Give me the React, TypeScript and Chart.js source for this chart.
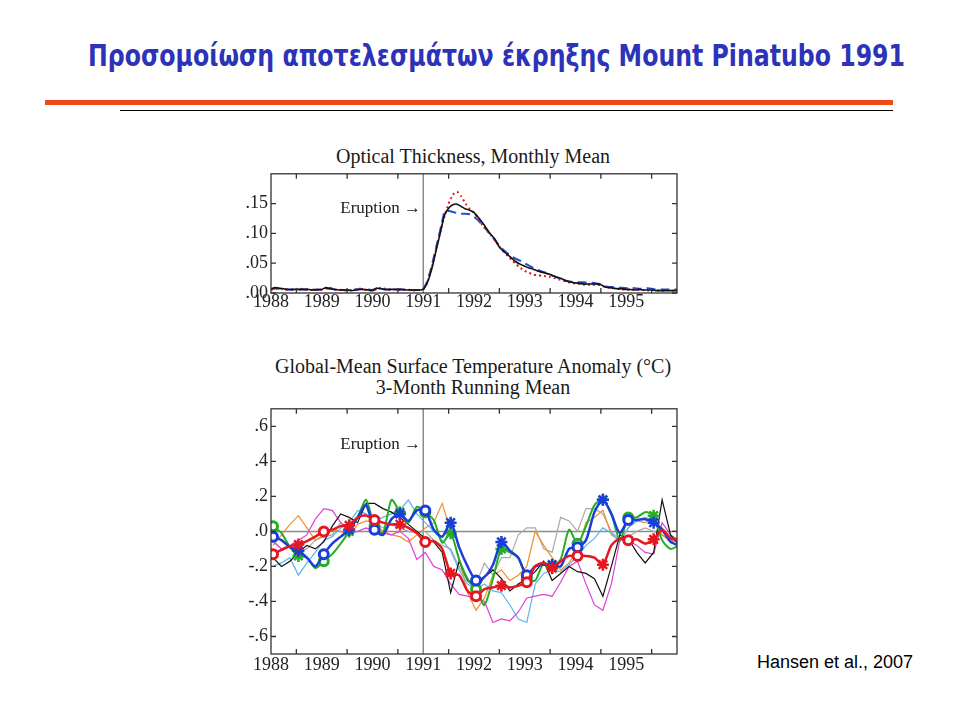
import React, { useEffect, useRef } from "react";
import { Chart, registerables } from "chart.js";
Chart.register(...registerables);

// ---------- Top panel: optical thickness (monthly) ----------
const odMonths = Array.from({ length: 97 }, (_, j) => 1988 + j / 12);
const odBlack = [
  0.007,0.009,0.008,0.007,0.006,0.006,0.006,0.006,0.006,0.006,0.005,0.006,
  0.006,0.009,0.007,0.006,0.005,0.005,0.005,0.004,0.005,0.006,0.006,0.005,
  0.004,0.008,0.007,0.006,0.006,0.006,0.006,0.006,0.005,0.005,0.005,0.005,
  0.006,0.018,0.040,0.070,0.100,0.130,0.142,0.148,0.149,0.145,0.141,0.139,
  0.135,0.127,0.118,0.108,0.098,0.090,0.077,0.070,0.064,0.058,0.052,0.048,
  0.045,0.042,0.040,0.037,0.035,0.033,0.031,0.028,0.026,0.023,0.020,0.018,
  0.017,0.016,0.015,0.015,0.015,0.015,0.014,0.010,0.009,0.008,0.007,0.007,
  0.006,0.006,0.005,0.006,0.005,0.005,0.005,0.004,0.004,0.004,0.004,0.004,
  0.004,
];
const odRed = [
  0.006,0.007,0.008,0.006,0.006,0.005,0.006,0.007,0.006,0.005,0.005,0.006,
  0.005,0.008,0.009,0.006,0.005,0.005,0.004,0.005,0.006,0.007,0.006,0.005,
  0.004,0.006,0.009,0.007,0.005,0.006,0.005,0.005,0.006,0.005,0.004,0.005,
  0.006,0.018,0.042,0.072,0.102,0.128,0.150,0.165,0.170,0.162,0.150,0.141,
  0.135,0.125,0.114,0.105,0.097,0.088,0.078,0.069,0.062,0.055,0.048,0.042,
  0.037,0.034,0.031,0.030,0.029,0.028,0.027,0.025,0.023,0.021,0.019,0.017,
  0.016,0.015,0.014,0.014,0.014,0.014,0.013,0.010,0.009,0.008,0.007,0.006,
  0.006,0.005,0.006,0.005,0.005,0.004,0.005,0.005,0.004,0.004,0.005,0.004,
  0.004,
];
const odBlue = [
  0.006,0.008,0.007,0.006,0.006,0.006,0.005,0.006,0.006,0.006,0.006,0.005,
  0.006,0.007,0.008,0.006,0.006,0.005,0.005,0.005,0.006,0.007,0.006,0.006,
  0.005,0.008,0.007,0.006,0.006,0.005,0.006,0.006,0.006,0.005,0.005,0.005,
  0.006,0.020,0.045,0.075,0.105,0.137,0.138,0.136,0.134,0.133,0.133,0.132,
  0.128,0.122,0.114,0.106,0.097,0.088,0.079,0.072,0.066,0.061,0.057,0.054,
  0.050,0.046,0.042,0.039,0.036,0.034,0.031,0.028,0.025,0.022,0.020,0.019,
  0.018,0.018,0.018,0.017,0.017,0.016,0.015,0.011,0.010,0.010,0.009,0.009,
  0.008,0.009,0.008,0.007,0.007,0.008,0.007,0.006,0.006,0.006,0.006,0.006,
  0.006,
];
const odTicks = [0, 0.05, 0.1, 0.15];

// ---------- Bottom panel: temperature anomaly (every 2 months) ----------
const tYears = Array.from({ length: 49 }, (_, i) => 1988.04 + i / 6);
const tBlue = [-0.03,-0.05,-0.09,-0.11,-0.15,-0.20,-0.13,-0.07,-0.03,0.01,0.08,0.15,0.01,-0.02,0.07,0.10,0.06,0.12,0.12,0.01,-0.03,0.05,-0.09,-0.20,-0.28,-0.26,-0.19,-0.06,-0.11,-0.15,-0.25,-0.20,-0.19,-0.19,-0.20,-0.10,-0.09,-0.05,0.11,0.18,0.10,-0.01,0.065,0.065,0.07,0.05,0.01,-0.06,-0.08];
const tRed = [-0.13,-0.106,-0.085,-0.075,-0.055,-0.03,0.0,0.01,0.03,0.035,0.08,0.09,0.065,0.05,0.04,0.04,0.02,-0.01,-0.06,-0.055,-0.10,-0.24,-0.25,-0.34,-0.37,-0.33,-0.32,-0.31,-0.32,-0.31,-0.29,-0.20,-0.18,-0.21,-0.17,-0.14,-0.14,-0.14,-0.15,-0.19,-0.08,-0.04,-0.05,-0.045,-0.07,-0.045,0.01,-0.04,-0.05];
const tGreen = [0.03,-0.01,-0.09,-0.14,-0.15,-0.21,-0.17,-0.13,-0.07,0.0,0.08,0.18,0.03,-0.01,0.18,0.11,0.05,0.14,0.11,0.065,-0.065,-0.01,-0.16,-0.27,-0.33,-0.42,-0.27,-0.10,-0.12,-0.15,-0.27,-0.28,-0.18,-0.20,-0.16,0.01,-0.07,0.03,0.15,0.18,0.10,-0.05,0.08,0.08,0.11,0.09,-0.05,-0.10,-0.08];
const tBlack = [-0.15,-0.20,-0.17,-0.12,-0.08,-0.10,-0.06,0.03,0.10,0.08,0.05,0.16,0.16,0.13,0.11,0.08,0.04,0.0,-0.04,-0.06,-0.12,-0.35,-0.17,-0.28,-0.33,-0.26,-0.22,-0.27,-0.34,-0.30,-0.27,-0.23,-0.17,-0.28,-0.24,-0.20,-0.23,-0.24,-0.27,-0.37,-0.20,-0.02,-0.04,-0.12,-0.18,-0.12,0.18,-0.02,-0.08];
const tGray = [-0.05,-0.10,-0.08,-0.12,-0.10,-0.05,-0.03,-0.02,0.05,0.02,0.08,0.10,0.05,0.02,0.04,0.02,0.0,-0.01,0.0,-0.05,-0.08,-0.10,-0.20,-0.28,-0.30,-0.18,-0.25,-0.15,-0.15,-0.02,0.02,0.02,-0.10,-0.12,0.08,0.06,0.0,0.13,0.13,0.10,0.0,-0.05,-0.03,0.0,0.02,0.0,-0.02,-0.05,-0.06];
const tOrange = [-0.08,-0.02,0.04,0.09,0.02,-0.05,-0.02,0.01,0.0,-0.03,0.04,0.06,0.05,0.0,-0.02,-0.03,-0.06,-0.02,0.02,0.05,0.16,0.0,-0.15,-0.35,-0.45,-0.38,-0.25,-0.22,-0.28,-0.25,-0.20,0.0,-0.08,-0.15,-0.22,-0.18,-0.10,0.05,0.08,0.12,-0.02,-0.05,0.02,0.06,0.05,0.08,-0.02,-0.06,-0.05];
const tMagenta = [-0.06,-0.10,-0.08,-0.05,-0.02,0.07,0.13,0.12,0.05,-0.01,0.0,0.02,0.0,-0.01,-0.02,0.0,-0.04,-0.16,-0.12,-0.20,-0.22,-0.30,-0.36,-0.37,-0.38,-0.40,-0.52,-0.50,-0.51,-0.46,-0.38,-0.37,-0.36,-0.37,-0.29,-0.20,-0.17,-0.30,-0.42,-0.45,-0.30,-0.05,-0.05,-0.08,-0.12,-0.13,0.05,-0.02,-0.05];
const tLightBlue = [-0.20,-0.18,-0.15,-0.25,-0.18,-0.12,-0.05,-0.03,0.02,0.05,0.12,0.10,0.06,0.08,0.10,0.12,0.18,0.10,0.05,0.0,-0.05,-0.11,-0.22,-0.30,-0.33,-0.30,-0.34,-0.35,-0.42,-0.50,-0.52,-0.30,-0.24,-0.22,-0.23,-0.19,-0.14,-0.08,-0.04,0.02,-0.01,-0.06,0.02,0.06,0.08,0.06,0.02,-0.03,-0.05];
const tTicks = [-0.6, -0.4, -0.2, 0, 0.2, 0.4, 0.6];

const yearLabels = [1988, 1989, 1990, 1991, 1992, 1993, 1994, 1995];
const halfYearTicks = [1988.5, 1989.5, 1990.5, 1991.5, 1992.5, 1993.5, 1994.5, 1995.5];
const eruptionYear = 1991;

const serif = "'Liberation Serif', 'Times New Roman', serif";
const tickFont = { family: serif, size: 18 };

const framePlugin = {
  id: "frame",
  beforeDatasetsDraw(chart: any, _a: any, opts: any) {
    const { ctx, chartArea: a, scales } = chart;
    ctx.save();
    ctx.strokeStyle = "#8c8c8c";
    ctx.lineWidth = 1.5;
    if (opts.vLine != null) {
      const px = scales.x.getPixelForValue(opts.vLine);
      ctx.beginPath(); ctx.moveTo(px, a.top); ctx.lineTo(px, a.bottom); ctx.stroke();
    }
    if (opts.hLine != null) {
      const py = scales.y.getPixelForValue(opts.hLine);
      ctx.beginPath(); ctx.moveTo(a.left, py); ctx.lineTo(a.right, py); ctx.stroke();
    }
    ctx.restore();
  },
  afterDraw(chart: any, _a: any, opts: any) {
    const { ctx, chartArea: a, scales } = chart;
    ctx.save();
    ctx.strokeStyle = "#333";
    ctx.lineWidth = 1.3;
    ctx.strokeRect(a.left, a.top, a.right - a.left, a.bottom - a.top);
    const L = 5;
    ctx.beginPath();
    for (const v of opts.xTicks || []) {
      const px = scales.x.getPixelForValue(v);
      ctx.moveTo(px, a.bottom); ctx.lineTo(px, a.bottom - L);
      ctx.moveTo(px, a.top); ctx.lineTo(px, a.top + L);
    }
    for (const v of opts.yTicks || []) {
      const py = scales.y.getPixelForValue(v);
      ctx.moveTo(a.left, py); ctx.lineTo(a.left + L, py);
      ctx.moveTo(a.right, py); ctx.lineTo(a.right - L, py);
    }
    ctx.stroke();
    ctx.restore();
  },
};

function xScale(height: number, pad: number) {
  return {
    type: "linear",
    min: 1988,
    max: 1996,
    afterBuildTicks: (s: any) => { s.ticks = yearLabels.map((v) => ({ value: v })); },
    afterFit: (s: any) => { s.height = height; },
    ticks: { callback: (v: any) => String(v), font: tickFont, color: "#222", padding: pad, maxRotation: 0, autoSkip: false },
    grid: { display: false, drawTicks: false },
    border: { display: false },
  };
}

function yScale(min: number, max: number, ticks: number[], fmt: (v: number) => string) {
  return {
    type: "linear",
    min, max,
    afterBuildTicks: (s: any) => { s.ticks = ticks.map((v) => ({ value: v })); },
    afterFit: (s: any) => { s.width = 51; },
    ticks: { callback: (v: any) => fmt(Number(v)), font: tickFont, color: "#222", padding: 3, autoSkip: false },
    grid: { display: false, drawTicks: false },
    border: { display: false },
  };
}

const pts = (xs: number[], ys: number[]) => ys.map((y, i) => ({ x: xs[i], y }));

function thin(label: string, data: number[], color: string, order: number) {
  return { label, data: pts(tYears, data), borderColor: color, borderWidth: 1.2, pointRadius: 0, tension: 0, order };
}
function marked(label: string, data: number[], color: string, width: number, order: number) {
  return {
    label,
    data: pts(tYears, data),
    borderColor: color,
    borderWidth: width,
    tension: 0.25,
    order,
    pointStyle: (c: any) => (c.dataIndex % 6 === 0 ? "circle" : "star"),
    pointRadius: (c: any) => (c.dataIndex % 3 === 0 && c.dataIndex < 48 ? (c.dataIndex % 6 === 0 ? 4.5 : 6) : 0),
    pointBorderWidth: (c: any) => (c.dataIndex % 6 === 0 ? 3 : 2.5),
    pointBorderColor: color,
    pointBackgroundColor: "#ffffff",
  };
}

export default function App() {
  const topRef = useRef<HTMLCanvasElement>(null);
  const botRef = useRef<HTMLCanvasElement>(null);
  const titleRef = useRef<HTMLSpanElement>(null);

  useEffect(() => {
    const el = titleRef.current;
    if (el) {
      const w = el.getBoundingClientRect().width;
      if (w > 0) el.style.transform = `scaleX(${817 / w})`;
    }
  }, []);

  useEffect(() => {
    const top = new Chart(topRef.current as HTMLCanvasElement, {
      type: "line",
      data: {
        datasets: [
          { label: "black", data: pts(odMonths, odBlack), borderColor: "#111", borderWidth: 1.6, pointRadius: 0, tension: 0.2, order: 1 },
          { label: "red", data: pts(odMonths, odRed), borderColor: "#e01a1a", borderWidth: 2, borderDash: [2, 3], pointRadius: 0, tension: 0.2, order: 2 },
          { label: "blue", data: pts(odMonths, odBlue), borderColor: "#1f4fd0", borderWidth: 2, borderDash: [9, 5], pointRadius: 0, tension: 0, order: 3 },
        ],
      } as any,
      options: {
        responsive: false,
        animation: false,
        layout: { padding: { top: 11, right: 13, left: 0, bottom: 0 } },
        plugins: {
          legend: { display: false },
          tooltip: { enabled: false },
          frame: { vLine: eruptionYear, hLine: null, xTicks: halfYearTicks, yTicks: odTicks },
        } as any,
        scales: {
          x: xScale(27, -2),
          y: yScale(0, 0.2, odTicks, (v) => v.toFixed(2).replace(/^0/, "")),
        } as any,
      },
      plugins: [framePlugin as any],
    });

    const bot = new Chart(botRef.current as HTMLCanvasElement, {
      type: "line",
      data: {
        datasets: [
          marked("red", tRed, "#e8161e", 2.5, 1),
          marked("blue", tBlue, "#1a3ed8", 2.5, 2),
          marked("green", tGreen, "#26ad26", 2, 3),
          thin("black", tBlack, "#111111", 4),
          thin("magenta", tMagenta, "#e040d8", 5),
          thin("lightblue", tLightBlue, "#5ab4ee", 6),
          thin("orange", tOrange, "#f0902a", 7),
          thin("gray", tGray, "#a8a8a8", 8),
        ],
      } as any,
      options: {
        responsive: false,
        animation: false,
        layout: { padding: { top: 9, right: 13, left: 0, bottom: 0 } },
        plugins: {
          legend: { display: false },
          tooltip: { enabled: false },
          frame: { vLine: eruptionYear, hLine: 0, xTicks: halfYearTicks, yTicks: tTicks },
        } as any,
        scales: {
          x: xScale(26, 0),
          y: yScale(-0.7, 0.7, tTicks, (v) => v.toFixed(1).replace("0.", ".")),
        } as any,
      },
      plugins: [framePlugin as any],
    });

    return () => { top.destroy(); bot.destroy(); };
  }, []);

  const txt: React.CSSProperties = { position: "absolute", fontFamily: serif, color: "#1a1a1a", whiteSpace: "nowrap" };

  return (
    <div style={{ position: "absolute", left: 0, top: 0, width: 960, height: 720, background: "#fff", overflow: "hidden" }}>
      <span
        ref={titleRef}
        style={{
          position: "absolute", left: 88, top: 41, display: "inline-block", transformOrigin: "0 0",
          fontFamily: "'DejaVu Sans Condensed', 'DejaVu Sans', sans-serif", fontStretch: "condensed",
          fontWeight: 700, fontSize: 30, lineHeight: "30px", color: "#2d33b8", whiteSpace: "nowrap",
        }}
      >
        Προσομοίωση αποτελεσμάτων έκρηξης Mount Pinatubo 1991
      </span>
      <div style={{ position: "absolute", left: 45, top: 100, width: 848, height: 5, background: "#ee4a1c" }} />
      <div style={{ position: "absolute", left: 120, top: 110, width: 773, height: 1, background: "#000" }} />

      <div style={{ ...txt, left: 273, width: 400, top: 146, textAlign: "center", fontSize: 20, lineHeight: "20px" }}>
        Optical Thickness, Monthly Mean
      </div>
      <canvas ref={topRef} width={470} height={160} style={{ position: "absolute", left: 220, top: 160, width: 470, height: 160 }} />
      <div style={{ ...txt, left: 280, width: 141, top: 199, textAlign: "right", fontSize: 17, lineHeight: "17px" }}>
        Eruption →
      </div>

      <div style={{ ...txt, left: 253, width: 440, top: 356, textAlign: "center", fontSize: 20, lineHeight: "21px" }}>
        Global-Mean Surface Temperature Anomaly (°C)
        <br />
        3-Month Running Mean
      </div>
      <canvas ref={botRef} width={470} height={285} style={{ position: "absolute", left: 220, top: 395, width: 470, height: 285 }} />
      <div style={{ ...txt, left: 280, width: 141, top: 435, textAlign: "right", fontSize: 17, lineHeight: "17px" }}>
        Eruption →
      </div>

      <div style={{ position: "absolute", left: 757, top: 653, fontFamily: "'Liberation Sans', Arial, sans-serif", fontSize: 18, lineHeight: "18px", color: "#000", whiteSpace: "nowrap" }}>
        Hansen et al., 2007
      </div>
    </div>
  );
}
